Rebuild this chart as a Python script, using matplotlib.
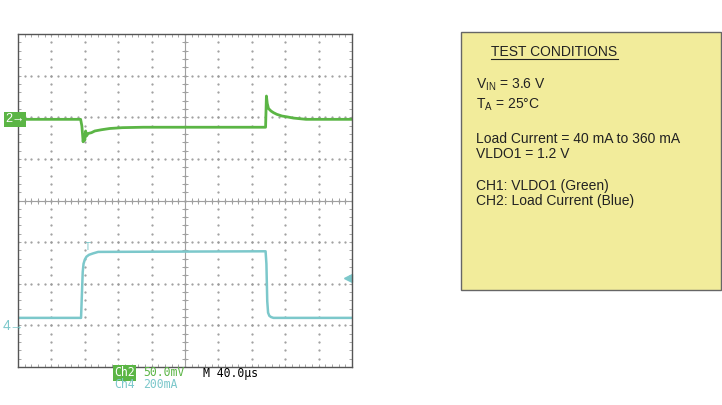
import numpy as np
import matplotlib.pyplot as plt
from matplotlib import font_manager
from matplotlib.patches import Rectangle
from matplotlib.lines import Line2D

plt.rcParams['font.family'] = ['Liberation Sans', 'DejaVu Sans']
plt.rcParams['mathtext.fontset'] = 'custom'
plt.rcParams['mathtext.rm'] = 'Liberation Sans'

# scope settings
us_per_div = 40.0
mv_per_div = 50.0
ma_per_div = 200.0

# CH2: VLDO1 ripple (mV, AC coupled) vs time (us)
green_t = [0, 75, 76.5, 78, 79, 80, 81, 82, 84, 88, 92, 100, 110, 125, 150,
           296.5, 297.5, 298.5, 300, 303, 306, 310, 316, 322, 330, 345, 400]
green_mv = [0, 0, -8, -27, -18, -25, -14, -20, -17, -16, -14, -12.5, -11, -10, -9.5,
            -9.5, 28, 19, 13, 10, 8, 6, 4, 3, 1.5, 0, 0]

# CH4: load current (mA) vs time (us)
blue_t = [0, 75.5, 76.5, 77.5, 78.5, 80, 82, 85, 90, 96,
          296.5, 297.5, 298.5, 299.5, 301, 303, 306, 400]
blue_ma = [40, 40, 150, 260, 300, 320, 334, 343, 350, 357,
           360, 300, 120, 65, 50, 44, 40, 40]

GREEN = '#5bb545'
BLUE = '#7cc8cb'
W, H = 722, 405


def px(x, y):
    return x / W, 1 - y / H


fig = plt.figure(figsize=(W / 100, H / 100), dpi=100)
ax = fig.add_axes([18 / W, (H - 367) / H, 334 / W, 333 / H])
ax.set_xlim(0, 10)
ax.set_ylim(-4, 4)

# dotted graticule
dots = np.arange(0, 10.01, 0.2)
for gy in range(-3, 4):
    ax.plot(dots, np.full_like(dots, gy), ls='none', marker='.', ms=1.2,
            color='#9a9a9a')
dots_v = np.arange(-4, 4.01, 0.2)
for gx in range(1, 10):
    ax.plot(np.full_like(dots_v, gx), dots_v, ls='none', marker='.', ms=1.2,
            color='#9a9a9a')

# centre cross with minor ticks
ax.axhline(0, color='#a0a0a0', lw=0.8)
ax.axvline(5, color='#a0a0a0', lw=0.8)
ax.plot(dots, np.zeros_like(dots), ls='none', marker='|', ms=5, mew=0.7,
        color='#a0a0a0')
ax.plot(np.full_like(dots_v, 5), dots_v, ls='none', marker='_', ms=5, mew=0.7,
        color='#a0a0a0')

ax.set_xticks([])
ax.set_yticks([])
ax.set_xticks(dots, minor=True)
ax.set_yticks(dots_v, minor=True)
ax.tick_params(which='minor', direction='in', length=2.5, width=0.6,
               color='#999999', top=True, right=True,
               labelbottom=False, labelleft=False)
for s in ax.spines.values():
    s.set_color('#555555')
    s.set_linewidth(1.0)

# traces
g_ref = 1.95
b_ref = -3.02
gx = np.array(green_t) / us_per_div
gy = g_ref + np.array(green_mv) / mv_per_div
bx = np.array(blue_t) / us_per_div
by = b_ref + np.array(blue_ma) / ma_per_div
ax.plot(gx, gy, color=GREEN, lw=2.0, solid_joinstyle='round')
ax.plot(bx, by, color=BLUE, lw=1.8, solid_joinstyle='round')

# trigger markers
ax.plot([9.88], [-1.87], marker='<', ms=6, color=BLUE, clip_on=False)
ax.text(2.08, -1.12, 'T', color=BLUE, fontsize=7, ha='center', va='center')

# channel reference markers
fig.text(*px(5, 119), '2\u2192', color='white', fontsize=9, va='center',
         ha='left', bbox=dict(boxstyle='square,pad=0.12', fc=GREEN, ec='none'))
fig.text(*px(3, 326), '4\u2192', color=BLUE, fontsize=10, va='center', ha='left')

# scope readout, narrow face if there is one
names = {f.name for f in font_manager.fontManager.ttflist}
if 'Liberation Sans Narrow' in names:
    rd = dict(family='Liberation Sans Narrow', fontsize=10)
else:
    rd = dict(family='DejaVu Sans Mono', fontsize=8.3)
fig.text(*px(114, 373), 'Ch2', color='white', va='center', ha='left',
         bbox=dict(boxstyle='square,pad=0.1', fc=GREEN, ec='none'), **rd)
fig.text(*px(143, 373), '50.0mV', color=GREEN, va='center', ha='left', **rd)
fig.text(*px(203, 373), 'M 40.0\u00b5s', color='black', va='center', ha='left', **rd)
fig.text(*px(114, 385), 'Ch4', color=BLUE, va='center', ha='left', **rd)
fig.text(*px(143, 385), '200mA', color=BLUE, va='center', ha='left', **rd)

# test conditions box
x0, y0 = px(461, 290)
x1, y1 = px(721, 32)
fig.patches.append(Rectangle((x0, y0), x1 - x0, y1 - y0, transform=fig.transFigure,
                             fc='#f2ec9b', ec='#666666', lw=1.0))
fs = 10
fig.text(*px(491, 56.5), 'TEST CONDITIONS', fontsize=fs, va='baseline', ha='left',
         color='#222222')
ux0, uy = px(491, 58.5)
ux1, _ = px(618, 58.5)
fig.lines.append(Line2D([ux0, ux1], [uy, uy], transform=fig.transFigure,
                        color='#222222', lw=0.8))
lines = [
    (88.5, r'V$_{\mathregular{IN}}$ = 3.6 V'),
    (108.5, r'T$_{\mathregular{A}}$ = 25°C'),
    (142.8, 'Load Current = 40 mA to 360 mA'),
    (157.8, 'VLDO1 = 1.2 V'),
    (190.2, 'CH1: VLDO1 (Green)'),
    (204.5, 'CH2: Load Current (Blue)'),
]
for yy, s in lines:
    fig.text(*px(476, yy), s, fontsize=fs, va='baseline', ha='left', color='#222222')

fig.savefig('out.png', dpi=100)
